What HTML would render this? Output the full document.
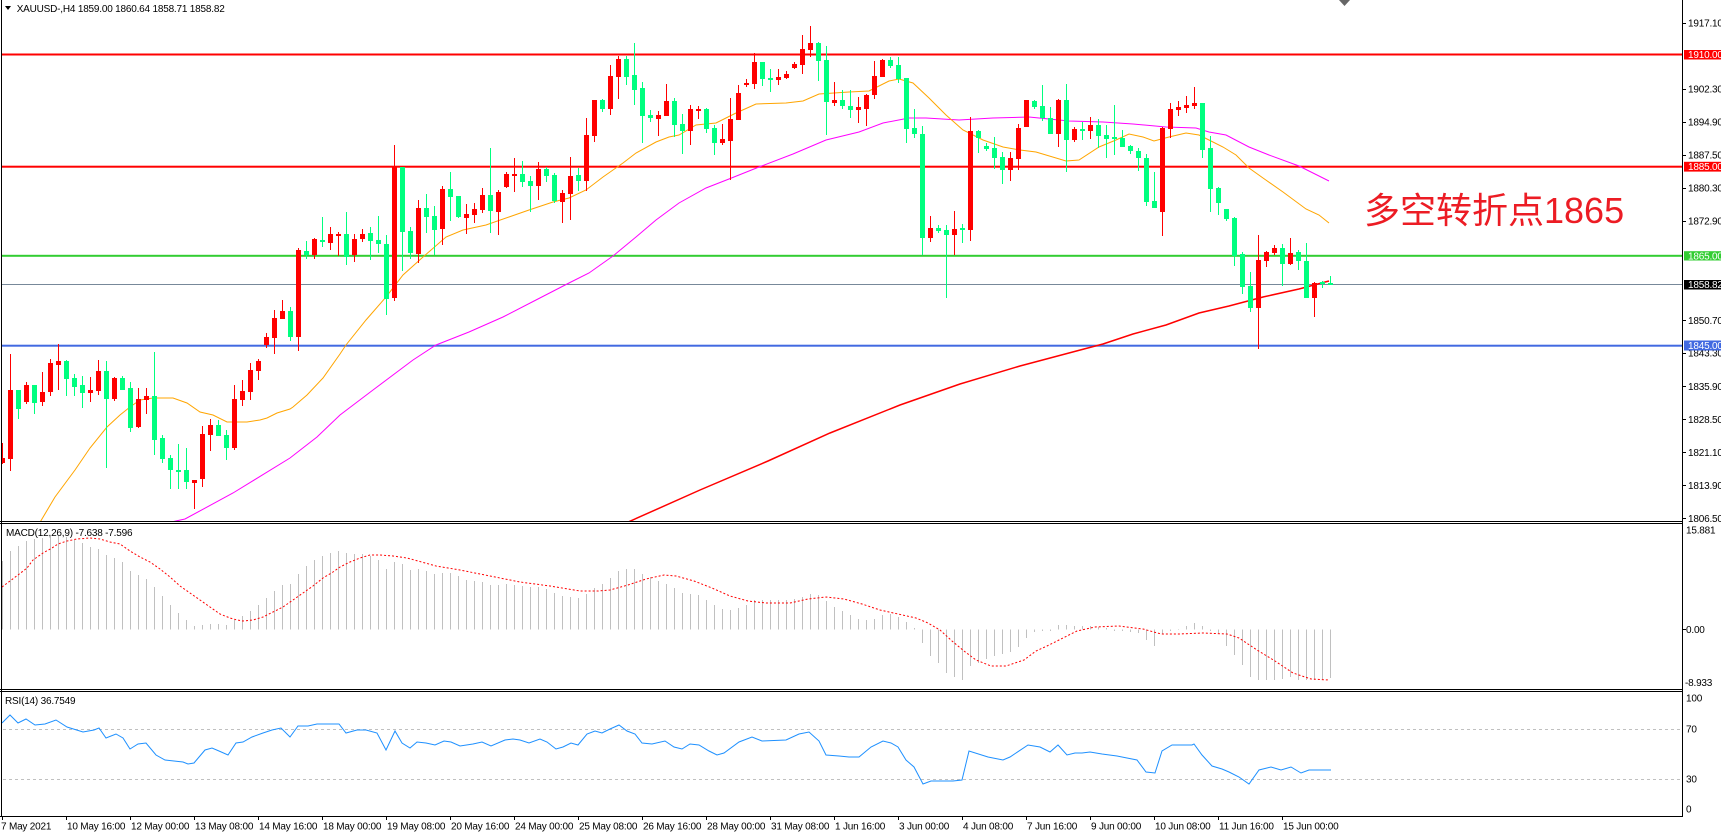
<!DOCTYPE html>
<html><head><meta charset="utf-8"><style>
html,body{margin:0;padding:0;background:#fff;width:1721px;height:837px;overflow:hidden}
svg{display:block}
text{font-family:"Liberation Sans",Arial,sans-serif;font-size:10px;letter-spacing:-0.2px;fill:#000}
</style></head><body>
<svg width="1721" height="837" viewBox="0 0 1721 837" xmlns="http://www.w3.org/2000/svg">
<defs>
<clipPath id="cm"><rect x="2" y="0" width="1681" height="521"/></clipPath>
<clipPath id="cd"><rect x="2" y="524" width="1681" height="165"/></clipPath>
<clipPath id="cr"><rect x="2" y="692" width="1681" height="124"/></clipPath>
</defs>
<rect width="1721" height="837" fill="#fff"/>

<!-- main panel -->
<g clip-path="url(#cm)">
<rect x="0" y="53.5" width="1683" height="2" fill="#ff0000"/>
<rect x="0" y="165.7" width="1683" height="2" fill="#ff0000"/>
<rect x="0" y="254.8" width="1683" height="2" fill="#32cd32"/>
<rect x="0" y="284" width="1683" height="1" fill="#778899"/>
<rect x="0" y="344.7" width="1683" height="2" fill="#4169e1"/>

<polyline fill="none" stroke="#ff0000" stroke-width="1.5" points="626,523 700,490 768,461 830,433 900,405 960,384 1020,366 1084,349 1103,344 1133,334 1166,325 1199,313 1229,306 1263,297 1299,289 1329,281"/>
<polyline fill="none" stroke="#ff00ff" stroke-width="1" points="162,524 185,519 233,493 290,458 317,437 340,415 373,390 413,360 436,345 469,332 503,317 536,300 569,283 589,273 613,256 636,237 656,220 679,203 706,188 729,179 759,167 793,154 826,140 859,132 883,123 909,118 926,118 959,120 993,118 1029,117 1069,121 1103,122 1133,124 1166,127 1196,128 1209,132 1226,135 1249,147 1269,155 1299,166 1329,181"/>
<polyline fill="none" stroke="#ffa500" stroke-width="1" points="39,524 55,497 75,470 90,448 107,427 120,415 130,407 140,400 153,398 173,398 187,403 200,412 213,415 227,422 247,422 260,420 267,418 277,413 290,409 293,407 307,395 323,378 340,354 346,345 366,320 386,297 403,275 423,257 446,237 463,230 486,225 509,217 529,210 553,202 569,198 586,190 603,177 623,163 636,153 656,142 669,137 679,135 696,125 716,123 736,113 756,104 786,103 803,101 819,94 849,92 869,91 889,81 899,79 913,83 929,98 946,115 963,130 983,140 1003,147 1020,150 1036,152 1066,161 1079,160 1099,147 1116,140 1129,134 1143,137 1154,141 1169,137 1186,133 1199,135 1209,140 1223,147 1236,155 1249,168 1263,178 1283,192 1306,209 1319,215 1329,223"/>

<path fill="#ff0000" shape-rendering="crispEdges" d="M2 443h1v21h-1zM0 458h5v5h-5zM10 354h1v117h-1zM8 390h5v69h-5zM26 382h1v22h-1zM24 385h5v17h-5zM42 372h1v34h-1zM40 392h5v10h-5zM50 359h1v37h-1zM48 363h5v29h-5zM58 344h1v46h-1zM56 361h5v4h-5zM90 377h1v25h-1zM88 390h5v3h-5zM98 360h1v35h-1zM96 371h5v20h-5zM114 377h1v24h-1zM112 378h5v21h-5zM138 388h1v40h-1zM136 399h5v28h-5zM146 388h1v26h-1zM144 396h5v4h-5zM194 480h1v29h-1zM192 480h5v3h-5zM202 426h1v61h-1zM200 434h5v45h-5zM210 419h1v32h-1zM208 425h5v10h-5zM234 385h1v65h-1zM232 399h5v49h-5zM242 380h1v26h-1zM240 391h5v9h-5zM250 363h1v37h-1zM248 370h5v22h-5zM258 359h1v21h-1zM256 361h5v10h-5zM266 333h1v15h-1zM264 337h5v8h-5zM274 310h1v44h-1zM272 318h5v20h-5zM282 300h1v19h-1zM280 311h5v8h-5zM298 248h1v103h-1zM296 250h5v87h-5zM314 238h1v21h-1zM312 239h5v16h-5zM330 227h1v23h-1zM328 234h5v9h-5zM338 232h1v24h-1zM336 234h5v2h-5zM354 234h1v28h-1zM352 239h5v16h-5zM362 229h1v13h-1zM360 234h5v5h-5zM394 145h1v156h-1zM392 167h5v131h-5zM418 200h1v63h-1zM416 208h5v46h-5zM442 186h1v59h-1zM440 189h5v40h-5zM466 204h1v30h-1zM464 214h5v4h-5zM474 203h1v20h-1zM472 209h5v6h-5zM482 188h1v25h-1zM480 195h5v15h-5zM498 190h1v45h-1zM496 192h5v20h-5zM506 172h1v16h-1zM504 174h5v13h-5zM514 158h1v34h-1zM512 174h5v2h-5zM538 162h1v38h-1zM536 169h5v17h-5zM562 190h1v33h-1zM560 193h5v9h-5zM570 157h1v63h-1zM568 176h5v18h-5zM586 118h1v73h-1zM584 135h5v46h-5zM594 100h1v42h-1zM592 100h5v36h-5zM610 65h1v50h-1zM608 76h5v33h-5zM618 56h1v43h-1zM616 59h5v18h-5zM658 111h1v25h-1zM656 115h5v4h-5zM666 84h1v32h-1zM664 101h5v15h-5zM690 105h1v40h-1zM688 109h5v22h-5zM698 106h1v13h-1zM696 109h5v2h-5zM722 124h1v21h-1zM720 139h5v4h-5zM730 98h1v82h-1zM728 119h5v22h-5zM738 85h1v35h-1zM736 93h5v27h-5zM746 79h1v8h-1zM744 83h5v2h-5zM754 53h1v36h-1zM752 62h5v22h-5zM778 69h1v16h-1zM776 77h5v3h-5zM786 71h1v8h-1zM784 74h5v4h-5zM794 62h1v7h-1zM792 64h5v4h-5zM802 35h1v39h-1zM800 49h5v16h-5zM810 26h1v31h-1zM808 43h5v7h-5zM834 82h1v24h-1zM832 100h5v3h-5zM858 97h1v26h-1zM856 107h5v3h-5zM866 94h1v32h-1zM864 95h5v14h-5zM874 61h1v38h-1zM872 76h5v19h-5zM882 59h1v18h-1zM880 60h5v17h-5zM930 216h1v26h-1zM928 228h5v10h-5zM954 211h1v44h-1zM952 229h5v6h-5zM970 117h1v124h-1zM968 131h5v99h-5zM1010 152h1v29h-1zM1008 158h5v12h-5zM1018 124h1v46h-1zM1016 128h5v31h-5zM1026 100h1v27h-1zM1024 100h5v27h-5zM1058 99h1v48h-1zM1056 100h5v34h-5zM1074 127h1v15h-1zM1072 129h5v11h-5zM1090 117h1v22h-1zM1088 125h5v6h-5zM1162 127h1v109h-1zM1160 128h5v84h-5zM1170 103h1v35h-1zM1168 109h5v20h-5zM1178 101h1v15h-1zM1176 107h5v3h-5zM1186 96h1v17h-1zM1184 105h5v3h-5zM1194 87h1v22h-1zM1192 103h5v3h-5zM1258 235h1v114h-1zM1256 260h5v48h-5zM1266 251h1v16h-1zM1264 252h5v9h-5zM1274 245h1v10h-1zM1272 248h5v5h-5zM1290 238h1v27h-1zM1288 253h5v11h-5zM1314 282h1v35h-1zM1312 283h5v15h-5z"/>

<path fill="#00ff7f" shape-rendering="crispEdges" d="M18 390h1v29h-1zM16 390h5v19h-5zM34 385h1v29h-1zM32 385h5v18h-5zM66 360h1v36h-1zM64 361h5v18h-5zM74 374h1v22h-1zM72 378h5v9h-5zM82 376h1v32h-1zM80 385h5v8h-5zM106 361h1v107h-1zM104 371h5v28h-5zM122 376h1v14h-1zM120 378h5v12h-5zM130 382h1v50h-1zM128 388h5v40h-5zM154 352h1v103h-1zM152 396h5v44h-5zM162 435h1v28h-1zM160 438h5v21h-5zM170 455h1v34h-1zM168 458h5v12h-5zM178 444h1v45h-1zM176 470h5v2h-5zM186 448h1v41h-1zM184 470h5v12h-5zM218 420h1v16h-1zM216 425h5v11h-5zM226 430h1v30h-1zM224 435h5v13h-5zM290 307h1v34h-1zM288 311h5v26h-5zM306 241h1v18h-1zM304 251h5v4h-5zM322 217h1v30h-1zM320 240h5v2h-5zM346 212h1v53h-1zM344 234h5v23h-5zM370 227h1v33h-1zM368 233h5v8h-5zM378 216h1v37h-1zM376 240h5v4h-5zM386 235h1v80h-1zM384 244h5v55h-5zM402 167h1v104h-1zM400 167h5v65h-5zM410 227h1v32h-1zM408 231h5v22h-5zM426 194h1v39h-1zM424 208h5v9h-5zM434 206h1v49h-1zM432 216h5v14h-5zM450 172h1v49h-1zM448 189h5v8h-5zM458 196h1v22h-1zM456 196h5v21h-5zM490 148h1v85h-1zM488 195h5v16h-5zM522 161h1v26h-1zM520 174h5v8h-5zM530 176h1v36h-1zM528 181h5v5h-5zM546 167h1v15h-1zM544 169h5v7h-5zM554 173h1v30h-1zM552 175h5v26h-5zM578 168h1v23h-1zM576 175h5v6h-5zM602 99h1v13h-1zM600 100h5v9h-5zM626 56h1v29h-1zM624 59h5v18h-5zM634 43h1v62h-1zM632 75h5v15h-5zM642 82h1v61h-1zM640 88h5v28h-5zM650 110h1v12h-1zM648 115h5v3h-5zM674 98h1v39h-1zM672 101h5v24h-5zM682 114h1v40h-1zM680 124h5v7h-5zM706 108h1v25h-1zM704 109h5v20h-5zM714 125h1v30h-1zM712 128h5v15h-5zM762 62h1v24h-1zM760 62h5v17h-5zM770 69h1v23h-1zM768 78h5v2h-5zM818 42h1v39h-1zM816 43h5v18h-5zM826 46h1v89h-1zM824 60h5v42h-5zM842 90h1v19h-1zM840 100h5v6h-5zM850 90h1v28h-1zM848 106h5v4h-5zM890 57h1v11h-1zM888 60h5v6h-5zM898 57h1v26h-1zM896 65h5v14h-5zM906 78h1v65h-1zM904 78h5v51h-5zM914 109h1v29h-1zM912 128h5v6h-5zM922 126h1v129h-1zM920 134h5v104h-5zM938 225h1v8h-1zM936 228h5v3h-5zM946 225h1v73h-1zM944 230h5v5h-5zM962 224h1v19h-1zM960 228h5v2h-5zM978 130h1v23h-1zM976 131h5v7h-5zM986 143h1v8h-1zM984 146h5v3h-5zM994 137h1v32h-1zM992 148h5v10h-5zM1002 152h1v32h-1zM1000 157h5v13h-5zM1034 100h1v9h-1zM1032 101h5v6h-5zM1042 85h1v36h-1zM1040 106h5v12h-5zM1050 107h1v27h-1zM1048 118h5v16h-5zM1066 84h1v88h-1zM1064 100h5v40h-5zM1082 122h1v18h-1zM1080 129h5v2h-5zM1098 119h1v29h-1zM1096 125h5v11h-5zM1106 125h1v33h-1zM1104 135h5v4h-5zM1114 105h1v50h-1zM1112 137h5v2h-5zM1122 130h1v17h-1zM1120 138h5v9h-5zM1130 145h1v9h-1zM1128 146h5v5h-5zM1138 148h1v23h-1zM1136 151h5v7h-5zM1146 154h1v52h-1zM1144 158h5v44h-5zM1154 172h1v36h-1zM1152 201h5v7h-5zM1202 103h1v55h-1zM1200 103h5v47h-5zM1210 136h1v76h-1zM1208 148h5v41h-5zM1218 187h1v28h-1zM1216 188h5v15h-5zM1226 209h1v12h-1zM1224 209h5v10h-5zM1234 217h1v49h-1zM1232 218h5v38h-5zM1242 252h1v42h-1zM1240 254h5v33h-5zM1250 272h1v40h-1zM1248 286h5v22h-5zM1282 244h1v42h-1zM1280 248h5v16h-5zM1298 250h1v20h-1zM1296 252h5v9h-5zM1306 243h1v55h-1zM1304 261h5v37h-5zM1322 281h1v7h-1zM1320 282h5v2h-5zM1330 276h1v9h-1zM1328 283h5v2h-5z"/>
</g>

<text x="1364" y="223" style="font-family:'Liberation Sans','Noto Sans CJK SC',sans-serif;font-size:36px;letter-spacing:0;fill:#ec1c24">多空转折点1865</text>

<!-- header -->
<polygon points="5,6 11,6 8,10" fill="#000"/>
<text x="16.7" y="11.8">XAUUSD-,H4  1859.00 1860.64 1858.71 1858.82</text>
<polygon points="1339,0 1350,0 1344.5,6" fill="#666"/>

<!-- MACD panel -->
<g clip-path="url(#cd)">
<path fill="none" stroke="#c0c0c0" stroke-width="1" shape-rendering="crispEdges" d="M2.5 629.5V561M10.5 629.5V551M18.5 629.5V546M26.5 629.5V541M34.5 629.5V539M42.5 629.5V538M50.5 629.5V537M58.5 629.5V536M66.5 629.5V537M74.5 629.5V540M82.5 629.5V543M90.5 629.5V547M98.5 629.5V549M106.5 629.5V555M114.5 629.5V558M122.5 629.5V562M130.5 629.5V571M138.5 629.5V575M146.5 629.5V579M154.5 629.5V587M162.5 629.5V596M170.5 629.5V605M178.5 629.5V613M186.5 629.5V620M194.5 629.5V626M202.5 629.5V625M210.5 629.5V624M218.5 629.5V624M226.5 629.5V625M234.5 629.5V620M242.5 629.5V616M250.5 629.5V611M258.5 629.5V605M266.5 629.5V598M274.5 629.5V591M282.5 629.5V585M290.5 629.5V584M298.5 629.5V574M306.5 629.5V566M314.5 629.5V560M322.5 629.5V556M330.5 629.5V553M338.5 629.5V551M346.5 629.5V553M354.5 629.5V554M362.5 629.5V554M370.5 629.5V556M378.5 629.5V560M386.5 629.5V569M394.5 629.5V562M402.5 629.5V564M410.5 629.5V570M418.5 629.5V569M426.5 629.5V571M434.5 629.5V574M442.5 629.5V573M450.5 629.5V573M458.5 629.5V576M466.5 629.5V580M474.5 629.5V581M482.5 629.5V582M490.5 629.5V585M498.5 629.5V585M506.5 629.5V584M514.5 629.5V585M522.5 629.5V586M530.5 629.5V587M538.5 629.5V587M546.5 629.5V589M554.5 629.5V593M562.5 629.5V596M570.5 629.5V597M578.5 629.5V598M586.5 629.5V594M594.5 629.5V588M602.5 629.5V584M610.5 629.5V578M618.5 629.5V571M626.5 629.5V569M634.5 629.5V569M642.5 629.5V574M650.5 629.5V577M658.5 629.5V581M666.5 629.5V584M674.5 629.5V588M682.5 629.5V593M690.5 629.5V594M698.5 629.5V595M706.5 629.5V600M714.5 629.5V605M722.5 629.5V609M730.5 629.5V610M738.5 629.5V608M746.5 629.5V605M754.5 629.5V600M762.5 629.5V600M770.5 629.5V600M778.5 629.5V600M786.5 629.5V600M794.5 629.5V599M802.5 629.5V597M810.5 629.5V594M818.5 629.5V595M826.5 629.5V601M834.5 629.5V607M842.5 629.5V611M850.5 629.5V615M858.5 629.5V619M866.5 629.5V620M874.5 629.5V619M882.5 629.5V615M890.5 629.5V614M898.5 629.5V617M906.5 629.5V622M914.5 629.5V628M922.5 629.5V643M930.5 629.5V656M938.5 629.5V663M946.5 629.5V673M954.5 629.5V677M962.5 629.5V680M970.5 629.5V666M978.5 629.5V663M986.5 629.5V659M994.5 629.5V656M1002.5 629.5V654M1010.5 629.5V652M1018.5 629.5V647M1026.5 629.5V638M1034.5 629.5V632M1042.5 629.5V631M1050.5 629.5V631M1058.5 629.5V625M1066.5 629.5V625M1074.5 629.5V626M1082.5 629.5V626M1090.5 629.5V626M1098.5 629.5V627M1106.5 629.5V628M1114.5 629.5V631M1122.5 629.5V631M1130.5 629.5V632M1138.5 629.5V633M1146.5 629.5V640M1154.5 629.5V646M1162.5 629.5V634M1170.5 629.5V631M1178.5 629.5V630M1186.5 629.5V626M1194.5 629.5V623M1202.5 629.5V626M1210.5 629.5V631M1218.5 629.5V633M1226.5 629.5V646M1234.5 629.5V655M1242.5 629.5V665M1250.5 629.5V677M1258.5 629.5V680M1266.5 629.5V680M1274.5 629.5V680M1282.5 629.5V679M1290.5 629.5V677M1298.5 629.5V680M1306.5 629.5V680M1314.5 629.5V680M1322.5 629.5V680M1330.5 629.5V678"/>
<polyline fill="none" stroke="#ff0000" stroke-width="1" stroke-dasharray="2 2" points="2,587 10,581 18,575 27,568 33,560 43,553 52,548 58,544 67,541 77,539 90,538 100,539 110,542 120,544 130,551 140,557 150,562 160,569 170,577 180,586 190,593 200,600 210,607 220,614 230,618 237,620 243,621 253,620 263,617 273,612 283,607 293,600 303,593 313,586 323,578 333,572 340,567 350,562 360,558 370,555 380,555 393,556 407,558 418,561 436,566 460,570 490,576 520,582 550,586 580,591 598,591 610,590 628,585 646,579 664,575 676,576 694,581 712,588 730,596 748,601 766,603 790,603 808,599 826,597 844,599 862,604 880,610 898,614 916,618 928,623 940,630 952,641 964,651 976,660 991,666 1006,666 1024,660 1036,651 1047,646 1059,640 1077,631 1095,627 1119,626 1143,629 1161,634 1179,634 1203,633 1227,634 1239,638 1257,650 1275,661 1293,673 1311,679 1329,680"/>
</g>
<text x="6" y="536">MACD(12,26,9) -7.638 -7.596</text>

<!-- RSI panel -->
<g clip-path="url(#cr)">
<line x1="3" y1="729.5" x2="1680" y2="729.5" stroke="#c0c0c0" stroke-width="1" stroke-dasharray="3 3"/>
<line x1="3" y1="779.5" x2="1680" y2="779.5" stroke="#c0c0c0" stroke-width="1" stroke-dasharray="3 3"/>
<polyline fill="none" stroke="#1e90ff" stroke-width="1" points="2,723 10,715 18,723 26,719 35,725 45,724 56,720 67,727 83,732 94,730 99,728 106,738 116,734 123,738 130,749 138,744 146,743 156,755 165,760 174,761 183,762 188,764 194,763 205,750 212,748 219,751 228,755 236,743 243,742 252,737 263,733 272,730 281,728 290,737 298,726 308,726 317,724 330,724 339,724 346,733 357,730 366,730 377,733 386,750 395,731 402,743 410,748 417,742 426,743 435,745 444,741 451,742 460,746 473,744 482,742 491,746 505,740 513,739 520,740 529,743 540,739 547,742 556,749 563,747 571,743 578,745 587,734 595,731 602,733 610,729 619,725 627,731 635,734 642,743 652,744 665,741 674,747 682,749 690,744 699,745 709,751 717,755 724,753 739,742 752,737 762,741 786,740 799,734 809,732 819,741 826,755 839,756 849,757 859,757 871,747 883,741 891,743 898,747 906,760 914,767 923,784 931,781 953,781 962,780 969,751 988,757 1003,760 1010,757 1028,745 1040,747 1050,752 1058,745 1067,755 1075,753 1082,753 1090,752 1102,754 1117,756 1127,758 1137,760 1146,772 1155,773 1162,751 1172,745 1192,745 1194,744 1202,755 1212,766 1222,769 1229,772 1239,777 1249,784 1259,770 1271,767 1281,770 1291,767 1301,773 1309,770 1331,770"/>
</g>
<text x="5" y="704">RSI(14) 36.7549</text>

<!-- frames -->
<g fill="#000" shape-rendering="crispEdges">
<rect x="1" y="0" width="1" height="817"/>
<rect x="1682" y="0" width="1" height="817"/>
<rect x="0" y="521" width="1683" height="1"/>
<rect x="0" y="523" width="1683" height="1"/>
<rect x="0" y="689" width="1683" height="1"/>
<rect x="0" y="691" width="1683" height="1"/>
<rect x="0" y="816" width="1683" height="1"/>
<!-- price ticks -->
<rect x="1683" y="23" width="3" height="1"/>
<rect x="1683" y="89" width="3" height="1"/>
<rect x="1683" y="122" width="3" height="1"/>
<rect x="1683" y="155" width="3" height="1"/>
<rect x="1683" y="188" width="3" height="1"/>
<rect x="1683" y="221" width="3" height="1"/>
<rect x="1683" y="320" width="3" height="1"/>
<rect x="1683" y="353" width="3" height="1"/>
<rect x="1683" y="386" width="3" height="1"/>
<rect x="1683" y="419" width="3" height="1"/>
<rect x="1683" y="452" width="3" height="1"/>
<rect x="1683" y="485" width="3" height="1"/>
<rect x="1683" y="518" width="3" height="1"/>
<rect x="1683" y="629" width="3" height="1"/>
<!-- time ticks -->
<rect x="2" y="816" width="1" height="4"/><rect x="66" y="816" width="1" height="4"/><rect x="130" y="816" width="1" height="4"/><rect x="194" y="816" width="1" height="4"/><rect x="258" y="816" width="1" height="4"/><rect x="322" y="816" width="1" height="4"/><rect x="386" y="816" width="1" height="4"/><rect x="450" y="816" width="1" height="4"/><rect x="514" y="816" width="1" height="4"/><rect x="578" y="816" width="1" height="4"/><rect x="642" y="816" width="1" height="4"/><rect x="706" y="816" width="1" height="4"/><rect x="770" y="816" width="1" height="4"/><rect x="834" y="816" width="1" height="4"/><rect x="898" y="816" width="1" height="4"/><rect x="962" y="816" width="1" height="4"/><rect x="1026" y="816" width="1" height="4"/><rect x="1090" y="816" width="1" height="4"/><rect x="1154" y="816" width="1" height="4"/><rect x="1218" y="816" width="1" height="4"/><rect x="1282" y="816" width="1" height="4"/>
</g>

<!-- price axis labels -->
<text x="1688" y="26.5">1917.10</text>
<text x="1688" y="92.5">1902.30</text>
<text x="1688" y="125.5">1894.90</text>
<text x="1688" y="158.5">1887.50</text>
<text x="1688" y="191.5">1880.30</text>
<text x="1688" y="224.5">1872.90</text>
<text x="1688" y="324">1850.70</text>
<text x="1688" y="356.5">1843.30</text>
<text x="1688" y="390">1835.90</text>
<text x="1688" y="423">1828.50</text>
<text x="1688" y="456">1821.10</text>
<text x="1688" y="489">1813.90</text>
<text x="1688" y="522">1806.50</text>

<rect x="1684" y="50" width="37" height="9.5" fill="#ff0000"/>
<text x="1688" y="58.2" style="fill:#fff">1910.00</text>
<rect x="1684" y="161.8" width="37" height="9.8" fill="#ff0000"/>
<text x="1688" y="170.2" style="fill:#fff">1885.00</text>
<rect x="1684" y="251.2" width="37" height="9.3" fill="#32cd32"/>
<text x="1688" y="259.4" style="fill:#fff">1865.00</text>
<rect x="1684" y="280" width="37" height="9.5" fill="#000"/>
<text x="1688" y="288.2" style="fill:#fff">1858.82</text>
<rect x="1684" y="340.5" width="37" height="10" fill="#4169e1"/>
<text x="1688" y="349" style="fill:#fff">1845.00</text>

<!-- MACD / RSI axis labels -->
<text x="1686" y="533.5">15.881</text>
<text x="1686" y="633">0.00</text>
<text x="1685" y="686">-8.933</text>
<text x="1686" y="701.5">100</text>
<text x="1686" y="732.5">70</text>
<text x="1686" y="782.5">30</text>
<text x="1686" y="812.5">0</text>

<!-- time labels -->
<text x="1" y="829.5">7 May 2021</text>
<text x="67" y="829.5">10 May 16:00</text>
<text x="131" y="829.5">12 May 00:00</text>
<text x="195" y="829.5">13 May 08:00</text>
<text x="259" y="829.5">14 May 16:00</text>
<text x="323" y="829.5">18 May 00:00</text>
<text x="387" y="829.5">19 May 08:00</text>
<text x="451" y="829.5">20 May 16:00</text>
<text x="515" y="829.5">24 May 00:00</text>
<text x="579" y="829.5">25 May 08:00</text>
<text x="643" y="829.5">26 May 16:00</text>
<text x="707" y="829.5">28 May 00:00</text>
<text x="771" y="829.5">31 May 08:00</text>
<text x="835" y="829.5">1 Jun 16:00</text>
<text x="899" y="829.5">3 Jun 00:00</text>
<text x="963" y="829.5">4 Jun 08:00</text>
<text x="1027" y="829.5">7 Jun 16:00</text>
<text x="1091" y="829.5">9 Jun 00:00</text>
<text x="1155" y="829.5">10 Jun 08:00</text>
<text x="1219" y="829.5">11 Jun 16:00</text>
<text x="1283" y="829.5">15 Jun 00:00</text>
</svg>
</body></html>
